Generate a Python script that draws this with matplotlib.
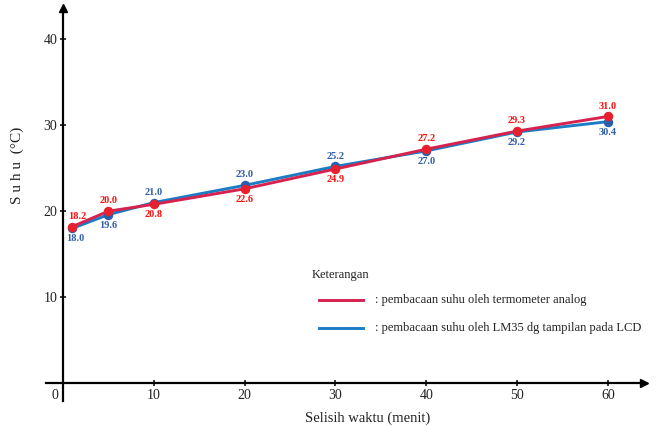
import numpy as np
import matplotlib
matplotlib.use("Agg")
import matplotlib.pyplot as plt

# data
menit = [1, 5, 10, 20, 30, 40, 50, 60]
suhu_analog = [18.2, 20.0, 20.8, 22.6, 24.9, 27.2, 29.3, 31.0]
suhu_lm35 = [18.0, 19.6, 21.0, 23.0, 25.2, 27.0, 29.2, 30.4]
# label above (1) or below (-1) the point
pos_analog = [1, 1, -1, -1, -1, 1, 1, 1]
pos_lm35 = [-1, -1, 1, 1, 1, -1, -1, -1]
xticks = [10, 20, 30, 40, 50, 60]
yticks = [10, 20, 30, 40]

plt.rcParams['font.family'] = ['Liberation Serif', 'DejaVu Serif']

merah_garis = '#d6224e'
merah_titik = '#e8202e'
merah_teks = '#ff1010'
biru_garis = '#1b7cc4'
biru_titik = '#2b5fae'
biru_teks = '#2f5ea8'
teks = '#222222'

fig = plt.figure(figsize=(6.57, 4.26), dpi=100)
ax = fig.add_axes([0, 0, 1, 1])
ax.set_xlim(-6.94, 65.42)
ax.set_ylim(-4.95, 44.53)

for s in ['top', 'right']:
    ax.spines[s].set_visible(False)
ax.spines['left'].set_position(('data', 0))
ax.spines['bottom'].set_position(('data', 0))
ax.spines['left'].set_bounds(-2.0, 43.4)
ax.spines['bottom'].set_bounds(-1.9, 63.8)
ax.spines['left'].set_linewidth(1.6)
ax.spines['bottom'].set_linewidth(1.6)
ax.plot([0], [43.6], marker='^', color='black', markersize=6, clip_on=False)
ax.plot([64.0], [0], marker='>', color='black', markersize=6, clip_on=False)

ax.set_xticks(xticks)
ax.set_yticks(yticks)
ax.tick_params(direction='inout', length=5, width=1.1, pad=1.5, labelsize=10, labelcolor=teks)
ax.text(-0.5, -0.6, '0', ha='right', va='top', fontsize=10, color=teks)

ax.plot(menit, suhu_lm35, color=biru_garis, lw=2.1, zorder=3)
ax.plot(menit, suhu_analog, color=merah_garis, lw=2.1, zorder=4)
ax.plot(menit, suhu_lm35, 'o', color=biru_titik, markersize=5.8, zorder=5)
ax.plot(menit, suhu_analog, 'o', color=merah_titik, markersize=5.8, zorder=5)

for i in range(len(menit)):
    dr = 4 if i == 0 else 0
    db = 2 if i == 0 else 0
    ax.annotate('%.1f' % suhu_analog[i], (menit[i], suhu_analog[i]),
                xytext=(dr, 7.5 * pos_analog[i]), textcoords='offset points',
                ha='center', va='center', fontsize=7.5, fontweight='bold', color=merah_teks)
    ax.annotate('%.1f' % suhu_lm35[i], (menit[i], suhu_lm35[i]),
                xytext=(db, 7.5 * pos_lm35[i]), textcoords='offset points',
                ha='center', va='center', fontsize=7.5, fontweight='bold', color=biru_teks)

# keterangan
ax.text(27.4, 12.6, 'Keterangan', fontsize=9, va='center', color=teks)
ax.plot([28.2, 33.0], [9.65, 9.65], color=merah_garis, lw=2.1)
ax.plot([28.2, 33.0], [6.4, 6.4], color=biru_garis, lw=2.1)
ax.text(34.4, 9.65, ': pembacaan suhu oleh termometer analog', fontsize=9, va='center', color=teks)
ax.text(34.4, 6.4, ': pembacaan suhu oleh LM35 dg tampilan pada LCD', fontsize=9, va='center', color=teks)

ax.text(33.6, -4.05, 'Selisih waktu (menit)', fontsize=10.5, ha='center', va='center', color=teks)
ax.text(-5.0, 25.3, 'S u h u  (°C)', fontsize=11, ha='center', va='center', rotation=90, color=teks)

fig.savefig('out.png', dpi=100)
